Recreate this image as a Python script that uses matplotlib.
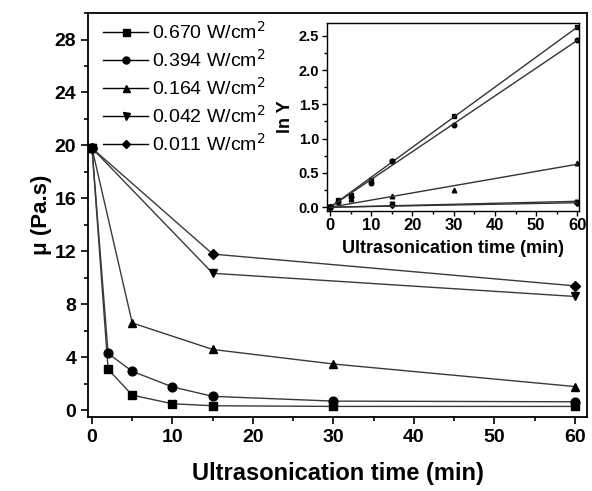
import numpy as np
import matplotlib
matplotlib.use('Agg')
import matplotlib.pyplot as plt
from matplotlib.ticker import MultipleLocator

plt.rcParams['font.family'] = ['Liberation Sans', 'DejaVu Sans']

# viscosity vs ultrasonication time
labels = ['0.670 W/cm$^2$', '0.394 W/cm$^2$', '0.164 W/cm$^2$',
          '0.042 W/cm$^2$', '0.011 W/cm$^2$']
markers = ['s', 'o', '^', 'v', 'D']

t_670 = [0, 2, 5, 10, 15, 30, 60]
mu_670 = [19.8, 3.1, 1.15, 0.5, 0.35, 0.3, 0.3]
t_394 = [0, 2, 5, 10, 15, 30, 60]
mu_394 = [19.8, 4.3, 2.95, 1.77, 1.06, 0.7, 0.65]
t_164 = [0, 5, 15, 30, 60]
mu_164 = [19.8, 6.6, 4.6, 3.5, 1.8]
t_042 = [0, 15, 60]
mu_042 = [19.8, 10.35, 8.6]
t_011 = [0, 15, 60]
mu_011 = [19.8, 11.8, 9.4]

# inset: ln Y vs time
lny_670 = [0.0, 0.1, 0.18, 0.4, 0.68, 1.33, 2.62]
lny_394 = [0.0, 0.07, 0.15, 0.35, 0.67, 1.2, 2.44]
lny_164 = [0.0, 0.12, 0.17, 0.25, 0.65]
lny_042 = [0.0, 0.05, 0.08]
lny_011 = [0.0, 0.04, 0.06]

series = [(t_670, mu_670, lny_670), (t_394, mu_394, lny_394),
          (t_164, mu_164, lny_164), (t_042, mu_042, lny_042),
          (t_011, mu_011, lny_011)]

fig = plt.figure(figsize=(5.92, 4.91), dpi=100)
ax = fig.add_axes([0.1486, 0.1507, 0.843, 0.8228])

for (t, mu, _), lab, m in zip(series, labels, markers):
    ms = 5.5 if m == 'D' else 6.3
    ax.plot(t, mu, color='#3a3a3a', lw=1.0, marker=m, ms=ms,
            mfc='black', mec='black', label=lab)

ax.set_xlim(-0.5, 61.5)
ax.set_ylim(-0.5, 30)
ax.xaxis.set_major_locator(MultipleLocator(10))
ax.xaxis.set_minor_locator(MultipleLocator(5))
ax.yaxis.set_major_locator(MultipleLocator(4))
ax.yaxis.set_minor_locator(MultipleLocator(2))
ax.tick_params(which='both', direction='out', width=1.2, top=False, right=False)
ax.tick_params(which='major', length=5, labelsize=14)
ax.tick_params(which='minor', length=3)
for lbl in ax.get_xticklabels() + ax.get_yticklabels():
    lbl.set_fontweight('bold')
for s in ax.spines.values():
    s.set_linewidth(1.3)

ax.set_xlabel('Ultrasonication time (min)', fontsize=17, fontweight='bold', labelpad=12)
ax.set_ylabel('\u03bc (Pa.s)', fontsize=16, fontweight='bold', labelpad=2)

leg = ax.legend(loc='upper left', bbox_to_anchor=(0.015, 1.0), frameon=False,
                fontsize=14, handlelength=2.3, handletextpad=0.2,
                labelspacing=0.32, borderaxespad=0, markerscale=0.8)
for h in leg.legend_handles:
    h.set_color('black')

# inset
ins = fig.add_axes([0.5519, 0.5709, 0.4261, 0.3829])
for (t, _, lny), m in zip(series, markers):
    t = np.array(t, dtype=float)
    lny = np.array(lny)
    ms = 3 if m == 'D' else 3.3
    ins.plot(t, lny, ls='none', marker=m, ms=ms, color='black')
    slope = np.sum(t * lny) / np.sum(t * t)
    ins.plot([0, 60], [0, slope * 60], color='#333333', lw=1.0)

ins.set_xlim(-0.8, 60.4)
ins.set_ylim(-0.05, 2.69)
ins.xaxis.set_major_locator(MultipleLocator(10))
ins.xaxis.set_minor_locator(MultipleLocator(5))
ins.yaxis.set_major_locator(MultipleLocator(0.5))
ins.yaxis.set_minor_locator(MultipleLocator(0.25))
ins.tick_params(which='both', direction='out', top=False, right=False, width=1.0)
ins.tick_params(which='major', length=3.5, pad=2)
ins.tick_params(which='minor', length=2)
ins.tick_params(axis='x', labelsize=12)
ins.tick_params(axis='y', labelsize=10.5)
for lbl in ins.get_xticklabels() + ins.get_yticklabels():
    lbl.set_fontweight('bold')
for s in ins.spines.values():
    s.set_linewidth(1.0)
ins.set_xlabel('Ultrasonication time (min)', fontsize=13, fontweight='bold', labelpad=5)
ins.set_ylabel('ln Y', fontsize=13, fontweight='bold', labelpad=3)

fig.savefig('out.png', dpi=100)
